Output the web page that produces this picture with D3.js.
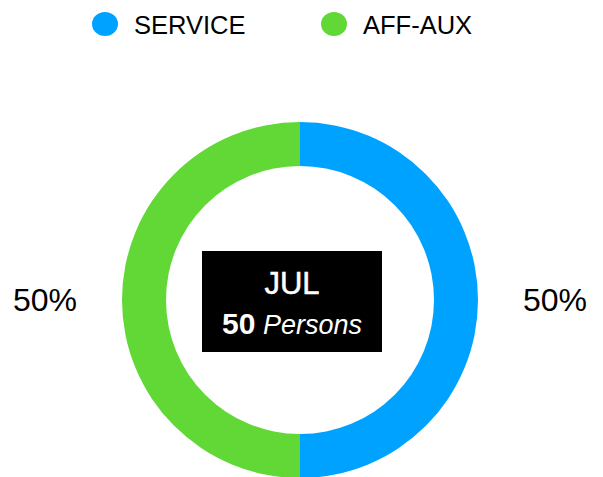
<!DOCTYPE html>
<html>
<head>
<meta charset="utf-8">
<script src="https://cdn.jsdelivr.net/npm/d3@7"></script>
<style>
  body { margin: 0; background: #fff; }
  text { font-family: "Liberation Sans", Arial, sans-serif; }
</style>
</head>
<body>
<div id="chart"></div>
<script>
const categories = ["SERVICE", "AFF-AUX"];
const values = [25, 25];
const colors = ["#00A2FF", "#61D836"];
const monthLabel = "JUL";
const totalPersons = 50;

const width = 603, height = 477;
const cx = 300, cy = 300;
const outerR = 178, innerR = 134;

const svg = d3.select("#chart")
  .append("svg")
    .attr("width", width)
    .attr("height", height);

const data = categories.map((c, i) => ({ name: c, value: values[i], color: colors[i] }));
const total = d3.sum(values);

// legend
const legendX = d3.scalePoint()
  .domain(categories)
  .range([105, 334]);
const legend = svg.selectAll(".legend")
  .data(data)
  .enter()
  .append("g")
    .attr("class", "legend")
    .attr("transform", d => "translate(" + legendX(d.name) + ",24)");
legend.append("ellipse")
  .attr("rx", 13)
  .attr("ry", 12)
  .attr("fill", d => d.color);
legend.append("text")
  .attr("x", 29)
  .attr("y", 9.5)
  .attr("font-size", 25.5)
  .attr("fill", "#000")
  .text(d => d.name);

// donut
const pie = d3.pie().sort(null).value(d => d.value);
const arc = d3.arc().innerRadius(innerR).outerRadius(outerR);
const g = svg.append("g")
  .attr("transform", "translate(" + cx + "," + cy + ")");
const arcs = pie(data);
g.selectAll("path")
  .data(arcs)
  .enter()
  .append("path")
    .attr("d", arc)
    .attr("fill", d => d.data.color);

// percent labels, left/right of the ring
g.selectAll(".pct")
  .data(arcs)
  .enter()
  .append("text")
    .attr("class", "pct")
    .attr("x", d => Math.sin((d.startAngle + d.endAngle) / 2) * 255)
    .attr("y", 11)
    .attr("text-anchor", "middle")
    .attr("font-size", 32)
    .attr("fill", "#000")
    .text(d => Math.round(d.data.value / total * 100) + "%");

// center box
const box = svg.append("g").attr("transform", "translate(292,301)");
box.append("rect")
  .attr("x", -90)
  .attr("y", -50)
  .attr("width", 180)
  .attr("height", 101)
  .attr("fill", "#000");
box.append("text")
  .attr("y", -7)
  .attr("text-anchor", "middle")
  .attr("font-size", 31)
  .attr("fill", "#fff")
  .attr("stroke", "#fff")
  .attr("stroke-width", 0.5)
  .text(monthLabel);
const line2 = box.append("text")
  .attr("y", 33)
  .attr("text-anchor", "middle")
  .attr("fill", "#fff");
line2.append("tspan")
  .attr("font-size", 30)
  .attr("font-weight", "bold")
  .text(totalPersons);
line2.append("tspan")
  .attr("font-size", 27)
  .attr("font-style", "italic")
  .text(" Persons");
</script>
</body>
</html>
